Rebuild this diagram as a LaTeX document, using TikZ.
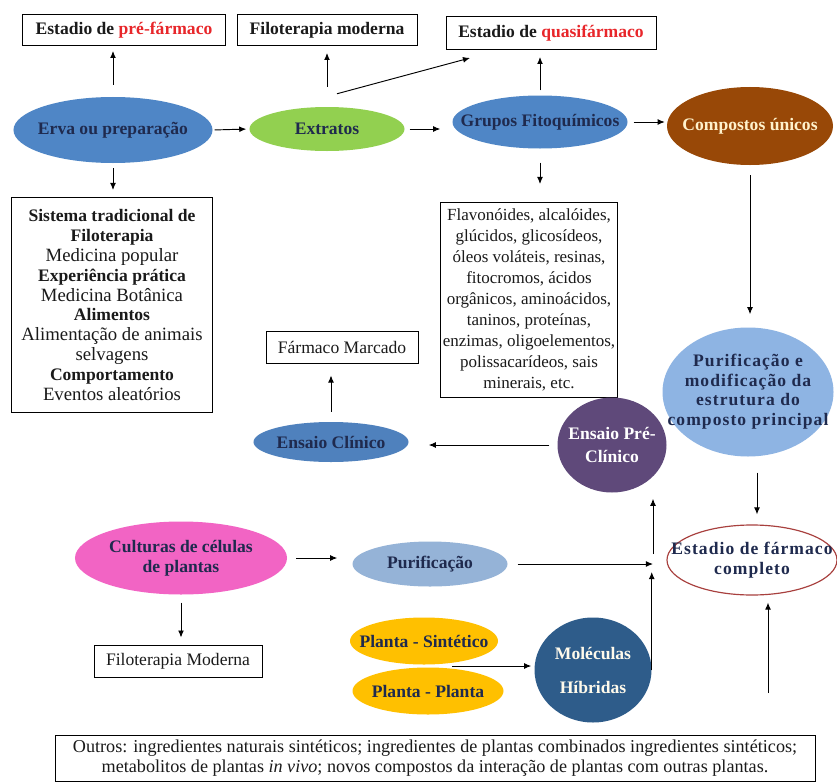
\documentclass[tikz,border=0pt]{standalone}
\usepackage{fontspec}
\setmainfont{Liberation Serif}
\newfontfamily\widebf[LetterSpace=6]{Liberation Serif}
\usetikzlibrary{shapes.geometric,calc,arrows.meta}
\definecolor{navytxt}{HTML}{1F2A4E}
\definecolor{drugred}{HTML}{E8262A}
\definecolor{ervablue}{HTML}{4F86C6}
\definecolor{extgreen}{HTML}{92D050}
\definecolor{brownc}{HTML}{984807}
\definecolor{creamtxt}{HTML}{FFF2CC}
\definecolor{paleblue}{HTML}{8EB4E3}
\definecolor{steelblue}{HTML}{95B3D7}
\definecolor{prepurple}{HTML}{5F497A}
\definecolor{clinblue}{HTML}{4F81BD}
\definecolor{fullred}{HTML}{A8403E}
\definecolor{pinkc}{HTML}{F264C4}
\definecolor{yellowc}{HTML}{FFC000}
\definecolor{molblue}{HTML}{2E5C8A}
\definecolor{bodytxt}{HTML}{1A1A1A}
\newcommand{\hd}[1]{{\fontsize{15}{17}\selectfont\bfseries #1}}
\begin{document}
\begin{tikzpicture}[x=0.03cm,y=-0.03cm,>={Latex[length=6pt,width=5pt]},
  every node/.style={font=\fontsize{15}{17}\selectfont,text=bodytxt},
  ell/.style={ellipse,inner sep=-4cm,align=center,text=navytxt,
    font=\fontsize{15}{17}\selectfont\bfseries},
  box/.style={draw,line width=0.8pt,align=center,inner sep=0pt,fill=white},
  arr/.style={->,line width=0.8pt}]
\useasboundingbox[fill=white] (0,0) rectangle (837,783);

% top boxes
\node[box,minimum width=6.09cm,minimum height=0.93cm,font=\fontsize{15}{17}\selectfont\bfseries] (prefarm) at (124,30) {Estadio de \textcolor{drugred}{pré-fármaco}};
\node[box,minimum width=5.4cm,minimum height=0.93cm,font=\fontsize{15}{17}\selectfont\bfseries] (filomod) at (327,30) {Filoterapia moderna};
\node[box,minimum width=6.3cm,minimum height=0.99cm,font=\fontsize{15}{17}\selectfont\bfseries] (quasi) at (551,33) {Estadio de \textcolor{drugred}{quasifármaco}};

% first row
\node[ell,fill=ervablue,minimum width=5.97cm,minimum height=1.98cm] (erva) at (113,130) {Erva ou preparação};
\node[ell,fill=extgreen,minimum width=4.65cm,minimum height=1.32cm] (extratos) at (327,129) {Extratos};
\node[ell,fill=ervablue,minimum width=5.25cm,minimum height=1.59cm] (grupos) at (540,122) {Grupos Fitoquímicos};
\node[ell,fill=brownc,text=creamtxt,minimum width=4.98cm,minimum height=2.34cm] (compostos) at (750,126) {Compostos únicos};

% text boxes
\node[box,minimum width=6.03cm,minimum height=6.45cm,font=\fontsize{16}{17}\selectfont] (tradbox) at (112,305)
  {\hd{Sistema tradicional de}\\ \hd{Filoterapia}\\ Medicina popular\\ \hd{Experiência prática}\\ Medicina Botânica\\ \hd{Alimentos}\\ Alimentação de animais\\ selvagens\\ \hd{Comportamento}\\ Eventos aleatórios};
\node[box,minimum width=5.31cm,minimum height=5.85cm,font=\fontsize{14.5}{18}\selectfont] (flavbox) at (529,300)
  {Flavonóides, alcalóides,\\ glúcidos, glicosídeos,\\ óleos voláteis, resinas,\\ fitocromos, ácidos\\ orgânicos, aminoácidos,\\ taninos, proteínas,\\ enzimas, oligoelementos,\\ polissacarídeos, sais\\ minerais, etc.};
\node[box,minimum width=4.56cm,minimum height=0.96cm] (marcado) at (342,347) {Fármaco Marcado};

% middle
\node[ell,fill=paleblue,minimum width=5.13cm,minimum height=3.87cm,font=\fontsize{15}{17}\widebf\bfseries] (purifmod) at (748,392)
  {\raisebox{-10pt}{\begin{tabular}{@{}c@{}}Purificação e\\ modificação da\\ estrutura do\\ composto principal\end{tabular}}};
\node[ell,fill=prepurple,text=white,minimum width=3.27cm,minimum height=2.85cm,font=\fontsize{15}{19}\selectfont\bfseries] (preclinico) at (612,445) {Ensaio Pré-\\ Clínico};
\node[ell,fill=clinblue,minimum width=4.65cm,minimum height=1.2cm] (clinico) at (331,442) {Ensaio Clínico};
\node[ell,draw=fullred,line width=1pt,fill=white,minimum width=5.1cm,minimum height=2.1cm,font=\fontsize{15}{17}\widebf\bfseries] (completo) at (752,560) {Estadio de fármaco\\ completo};

% lower part
\node[ell,fill=pinkc,minimum width=6.36cm,minimum height=2.19cm] (culturas) at (181,558) {Culturas de células\\ de plantas};
\node[ell,fill=steelblue,minimum width=4.65cm,minimum height=1.35cm] (purif) at (430,564) {Purificação};
\node[box,minimum width=5.04cm,minimum height=0.96cm] (filomod2) at (178,661) {Filoterapia Moderna};
\node[ell,fill=yellowc,minimum width=4.44cm,minimum height=1.41cm] (plsint) at (424,641) {Planta - Sintético};
\node[ell,fill=yellowc,minimum width=4.53cm,minimum height=1.41cm] (plplanta) at (428,691) {Planta - Planta};
\node[ell,fill=molblue,text=creamtxt!40!white,minimum width=3.51cm,minimum height=3.15cm] (moleculas) at (593,670) {Moléculas\\[12pt] Híbridas};
\node[box,minimum width=22.8cm,minimum height=1.38cm,font=\fontsize{15.5}{17.5}\selectfont] (outros) at (435,758)
  {Outros: ingredientes naturais sintéticos; ingredientes de plantas combinados ingredientes sintéticos;\\ metabolitos de plantas \textit{in vivo}; novos compostos da interação de plantas com outras plantas.};

\coordinate (junc) at (653,562);
\coordinate (plmid) at (452,666);
\coordinate (outarr) at (768,693);
\coordinate (pmout) at ($(purifmod.south)+(9,0)$);
\coordinate (exdiag) at ($(extratos.north)+(10,-13)$);
\coordinate (qsdiag) at ($(quasi.south)+(-81,8)$);

% arrows
\draw[arr,shorten <=3.6mm,shorten >=1.5mm] (erva.north) -- (erva.north |- prefarm.south);
\draw[arr,shorten <=1.5mm,shorten >=2.1mm] (erva.south) -- (erva.south |- tradbox.north);
\draw[arr,shorten <=0.6mm,shorten >=0.9mm] (erva.east) -- (extratos.west);
\draw[arr,shorten <=6mm,shorten >=2.1mm] (extratos.north) -- (filomod.south);
\draw[arr] (exdiag) -- (qsdiag);
\draw[arr,shorten <=1.5mm,shorten >=3.6mm] (extratos.east) -- (extratos.east -| grupos.west);
\draw[arr,shorten <=1.5mm,shorten >=2.1mm] (grupos.north) -- (grupos.north |- quasi.south);
\draw[arr,shorten <=1.8mm,shorten >=0.6mm] (grupos.east) -- (grupos.east -| compostos.west);
\draw[arr,shorten <=4.2mm,shorten >=5.4mm] (grupos.south) -- (grupos.south |- flavbox.north);
\draw[arr,shorten <=3mm,shorten >=3.9mm] (compostos.south) -- (compostos.south |- purifmod.north);
\draw[arr,shorten <=4.8mm,shorten >=3mm] (pmout) -- (pmout |- completo.north);
\draw[arr,shorten <=2.4mm,shorten >=6mm] (preclinico.west) -- (preclinico.west -| clinico.east);
\draw[arr,shorten <=3mm,shorten >=3.6mm] (clinico.north) -- (clinico.north |- marcado.south);
\draw[arr,shorten <=2.7mm,shorten >=4.5mm] (culturas.east) -- (culturas.east -| purif.west);
\draw[arr,shorten <=2.4mm,shorten >=2.1mm] (culturas.south) -- (culturas.south |- filomod2.north);
\draw[arr,shorten <=3mm] (purif.east) -- (purif.east -| junc);
\draw[arr,shorten >=3mm] (moleculas.east) -- (moleculas.east |- junc);
\draw[arr,shorten <=2.4mm,shorten >=1.8mm] (junc) -- (junc |- preclinico.south);
\draw[arr,shorten >=0.9mm] (plmid) -- (plmid -| moleculas.west);
\draw[arr,shorten >=2.1mm] (outarr) -- (outarr |- completo.south);
\end{tikzpicture}
\end{document}
